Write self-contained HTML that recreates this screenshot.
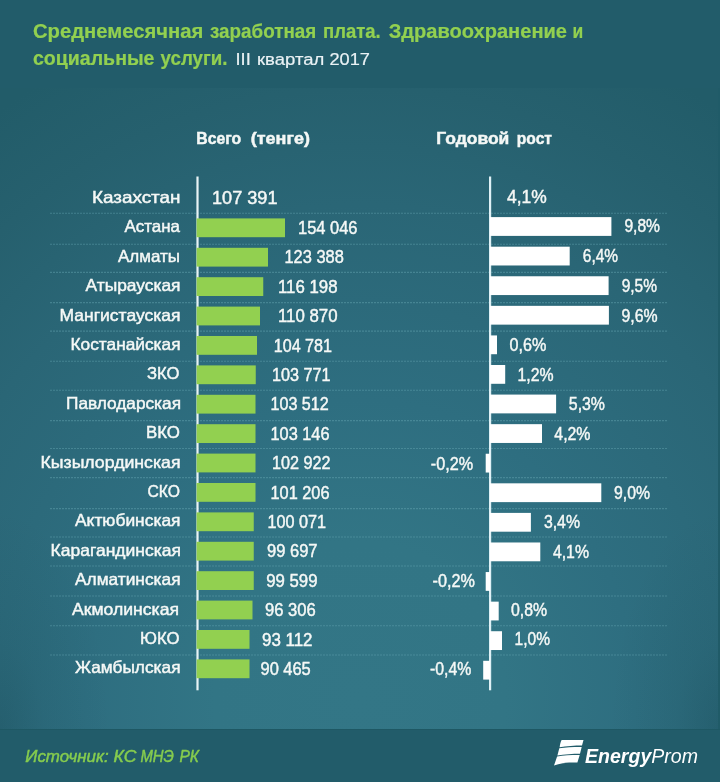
<!DOCTYPE html>
<html lang="ru">
<head>
<meta charset="utf-8">
<title>Среднемесячная заработная плата. Здравоохранение и социальные услуги</title>
<style>
html,body{margin:0;padding:0;background:#225c6a;}
body{width:720px;height:782px;overflow:hidden;position:relative;font-family:"Liberation Sans",sans-serif;}
#plot{position:absolute;left:0;top:88px;width:720px;height:641px;
background:
 radial-gradient(ellipse 110px 220px at 0px 641px, rgba(10,50,60,0.20) 0%, rgba(10,50,60,0.08) 40%, rgba(10,50,60,0) 100%),
 radial-gradient(ellipse 110px 220px at 720px 641px, rgba(10,50,60,0.20) 0%, rgba(10,50,60,0.08) 40%, rgba(10,50,60,0) 100%),
 radial-gradient(ellipse 558px 612px at 360px 612px, #337686 0%, #327585 26%, #2e6e80 49%, #2a6676 81%, #26606e 100%, #225c69 116%);
}
#edge{position:absolute;right:0;top:88px;width:2px;height:641px;background:#205b68;}
#footline{position:absolute;left:0;top:729px;width:720px;height:1px;background:#1e5864;}
svg{position:absolute;left:0;top:0;}
svg text{font-family:"Liberation Sans",sans-serif;}
</style>
</head>
<body>
<div id="plot"></div><div id="edge"></div><div id="footline"></div>
<svg width="720" height="782" viewBox="0 0 720 782">

<g font-weight="bold">
<text x="33.00" y="38.00" font-size="19.4" fill="#92d050" stroke="#92d050" stroke-width="0.2" textLength="170.25" lengthAdjust="spacingAndGlyphs">Среднемесячная</text>
<text x="210.00" y="38.00" font-size="19.4" fill="#92d050" stroke="#92d050" stroke-width="0.2" textLength="106.25" lengthAdjust="spacingAndGlyphs">заработная</text>
<text x="323.00" y="38.00" font-size="19.4" fill="#92d050" stroke="#92d050" stroke-width="0.2" textLength="57.75" lengthAdjust="spacingAndGlyphs">плата.</text>
<text x="388.75" y="38.00" font-size="19.4" fill="#92d050" stroke="#92d050" stroke-width="0.2" textLength="178.25" lengthAdjust="spacingAndGlyphs">Здравоохранение</text>
<text x="572.50" y="38.00" font-size="19.4" fill="#92d050" stroke="#92d050" stroke-width="0.2" textLength="10.75" lengthAdjust="spacingAndGlyphs">и</text>
<text x="33.00" y="64.50" font-size="19.4" fill="#92d050" stroke="#92d050" stroke-width="0.2" textLength="121.50" lengthAdjust="spacingAndGlyphs">социальные</text>
<text x="160.50" y="64.50" font-size="19.4" fill="#92d050" stroke="#92d050" stroke-width="0.2" textLength="67.00" lengthAdjust="spacingAndGlyphs">услуги.</text>
</g>
<text x="235.50" y="65.00" font-size="16.8" fill="#eaf2f5" stroke="#eaf2f5" stroke-width="0.2" textLength="15.30" lengthAdjust="spacingAndGlyphs">III</text>
<text x="257.00" y="65.00" font-size="16.8" fill="#eaf2f5" stroke="#eaf2f5" stroke-width="0.2" textLength="67.25" lengthAdjust="spacingAndGlyphs">квартал</text>
<text x="329.50" y="65.00" font-size="16.8" fill="#eaf2f5" stroke="#eaf2f5" stroke-width="0.2" textLength="40.50" lengthAdjust="spacingAndGlyphs">2017</text>
<g font-weight="bold">
<text x="196.25" y="144.00" font-size="16" fill="#f5f8f6" stroke="#f5f8f6" stroke-width="0.45" textLength="45.00" lengthAdjust="spacingAndGlyphs">Всего</text>
<text x="250.75" y="144.00" font-size="16" fill="#f5f8f6" stroke="#f5f8f6" stroke-width="0.45" textLength="59.25" lengthAdjust="spacingAndGlyphs">(тенге)</text>
<text x="436.25" y="144.00" font-size="16" fill="#f5f8f6" stroke="#f5f8f6" stroke-width="0.45" textLength="73.00" lengthAdjust="spacingAndGlyphs">Годовой</text>
<text x="516.75" y="144.00" font-size="16" fill="#f5f8f6" stroke="#f5f8f6" stroke-width="0.45" textLength="35.25" lengthAdjust="spacingAndGlyphs">рост</text>
</g>
<g stroke="#6aaab6" stroke-width="1.1" stroke-dasharray="2 1" opacity="0.42">
<line x1="50" y1="213.2" x2="668" y2="213.2"/>
<line x1="50" y1="244.3" x2="668" y2="244.3"/>
<line x1="50" y1="272.4" x2="668" y2="272.4"/>
<line x1="50" y1="302.6" x2="668" y2="302.6"/>
<line x1="50" y1="331.1" x2="668" y2="331.1"/>
<line x1="50" y1="361.3" x2="668" y2="361.3"/>
<line x1="50" y1="390.3" x2="668" y2="390.3"/>
<line x1="50" y1="420.6" x2="668" y2="420.6"/>
<line x1="50" y1="448.5" x2="668" y2="448.5"/>
<line x1="50" y1="477.6" x2="668" y2="477.6"/>
<line x1="50" y1="508.6" x2="668" y2="508.6"/>
<line x1="50" y1="537" x2="668" y2="537"/>
<line x1="50" y1="566" x2="668" y2="566"/>
<line x1="50" y1="596" x2="668" y2="596"/>
<line x1="50" y1="625.7" x2="668" y2="625.7"/>
<line x1="50" y1="655" x2="668" y2="655"/>
</g>
<rect x="196.4" y="176.5" width="2.2" height="513.8" fill="#e8f3f5"/>
<rect x="489" y="176.5" width="2.2" height="513.8" fill="#dff1f6"/>
<g fill="#92d050">
<rect x="196.6" y="218.40" width="88.40" height="18.8"/>
<rect x="196.6" y="247.80" width="71.40" height="18.8"/>
<rect x="196.6" y="277.20" width="66.65" height="18.8"/>
<rect x="196.6" y="306.60" width="63.40" height="18.8"/>
<rect x="196.6" y="336.00" width="60.40" height="18.8"/>
<rect x="196.6" y="365.40" width="59.15" height="18.8"/>
<rect x="196.6" y="394.80" width="58.90" height="18.8"/>
<rect x="196.6" y="424.20" width="58.90" height="18.8"/>
<rect x="196.6" y="453.60" width="58.90" height="18.8"/>
<rect x="196.6" y="483.00" width="58.90" height="18.8"/>
<rect x="196.6" y="512.40" width="57.15" height="18.8"/>
<rect x="196.6" y="541.80" width="57.15" height="18.8"/>
<rect x="196.6" y="571.20" width="57.15" height="18.8"/>
<rect x="196.6" y="600.60" width="55.90" height="18.8"/>
<rect x="196.6" y="630.00" width="52.90" height="18.8"/>
<rect x="196.6" y="659.40" width="52.90" height="18.8"/>
</g>
<g fill="#ffffff">
<rect x="490" y="217.10" width="121.40" height="18.8"/>
<rect x="490" y="246.68" width="79.70" height="18.8"/>
<rect x="490" y="276.26" width="118.60" height="18.8"/>
<rect x="490" y="305.84" width="118.90" height="18.8"/>
<rect x="490" y="335.42" width="7.00" height="18.8"/>
<rect x="490" y="365.00" width="15.20" height="18.8"/>
<rect x="490" y="394.58" width="66.10" height="18.8"/>
<rect x="490" y="424.16" width="52.00" height="18.8"/>
<rect x="485.70" y="453.74" width="4.30" height="18.8"/>
<rect x="490" y="483.32" width="111.30" height="18.8"/>
<rect x="490" y="512.90" width="40.90" height="18.8"/>
<rect x="490" y="542.48" width="50.30" height="18.8"/>
<rect x="485.70" y="572.06" width="4.30" height="18.8"/>
<rect x="490" y="601.64" width="8.70" height="18.8"/>
<rect x="490" y="631.22" width="12.00" height="18.8"/>
<rect x="483.20" y="660.80" width="6.80" height="18.8"/>
</g>
<text x="92.00" y="203.00" font-size="16.5" fill="#f5f8f6" stroke="#f5f8f6" stroke-width="0.45" textLength="88.50" lengthAdjust="spacingAndGlyphs">Казахстан</text>
<text x="212.00" y="203.70" font-size="17.8" fill="#f5f8f6" stroke="#f5f8f6" stroke-width="0.45" textLength="65.50" lengthAdjust="spacingAndGlyphs">107 391</text>
<text x="507.00" y="202.80" font-size="17.6" fill="#f5f8f6" stroke="#f5f8f6" stroke-width="0.45" textLength="39.70" lengthAdjust="spacingAndGlyphs">4,1%</text>
<text x="124.50" y="232.40" font-size="16.5" fill="#f5f8f6" stroke="#f5f8f6" stroke-width="0.45" textLength="55.50" lengthAdjust="spacingAndGlyphs">Астана</text>
<text x="298.00" y="234.00" font-size="17.5" fill="#f5f8f6" stroke="#f5f8f6" stroke-width="0.45" textLength="59.50" lengthAdjust="spacingAndGlyphs">154 046</text>
<text x="624.40" y="232.31" font-size="17.6" fill="#f5f8f6" stroke="#f5f8f6" stroke-width="0.45" textLength="35.60" lengthAdjust="spacingAndGlyphs">9,8%</text>
<text x="118.00" y="261.80" font-size="16.5" fill="#f5f8f6" stroke="#f5f8f6" stroke-width="0.45" textLength="62.00" lengthAdjust="spacingAndGlyphs">Алматы</text>
<text x="284.50" y="263.40" font-size="17.5" fill="#f5f8f6" stroke="#f5f8f6" stroke-width="0.45" textLength="59.25" lengthAdjust="spacingAndGlyphs">123 388</text>
<text x="582.80" y="262.12" font-size="17.6" fill="#f5f8f6" stroke="#f5f8f6" stroke-width="0.45" textLength="35.20" lengthAdjust="spacingAndGlyphs">6,4%</text>
<text x="85.50" y="291.20" font-size="16.5" fill="#f5f8f6" stroke="#f5f8f6" stroke-width="0.45" textLength="95.00" lengthAdjust="spacingAndGlyphs">Атырауская</text>
<text x="278.00" y="292.80" font-size="17.5" fill="#f5f8f6" stroke="#f5f8f6" stroke-width="0.45" textLength="59.50" lengthAdjust="spacingAndGlyphs">116 198</text>
<text x="621.70" y="291.83" font-size="17.6" fill="#f5f8f6" stroke="#f5f8f6" stroke-width="0.45" textLength="35.30" lengthAdjust="spacingAndGlyphs">9,5%</text>
<text x="59.50" y="320.60" font-size="16.5" fill="#f5f8f6" stroke="#f5f8f6" stroke-width="0.45" textLength="121.00" lengthAdjust="spacingAndGlyphs">Мангистауская</text>
<text x="278.00" y="322.20" font-size="17.5" fill="#f5f8f6" stroke="#f5f8f6" stroke-width="0.45" textLength="59.50" lengthAdjust="spacingAndGlyphs">110 870</text>
<text x="621.50" y="321.64" font-size="17.6" fill="#f5f8f6" stroke="#f5f8f6" stroke-width="0.45" textLength="36.10" lengthAdjust="spacingAndGlyphs">9,6%</text>
<text x="70.50" y="350.00" font-size="16.5" fill="#f5f8f6" stroke="#f5f8f6" stroke-width="0.45" textLength="110.00" lengthAdjust="spacingAndGlyphs">Костанайская</text>
<text x="273.75" y="351.60" font-size="17.5" fill="#f5f8f6" stroke="#f5f8f6" stroke-width="0.45" textLength="58.25" lengthAdjust="spacingAndGlyphs">104 781</text>
<text x="509.60" y="351.35" font-size="17.6" fill="#f5f8f6" stroke="#f5f8f6" stroke-width="0.45" textLength="36.80" lengthAdjust="spacingAndGlyphs">0,6%</text>
<text x="147.00" y="379.40" font-size="16.5" fill="#f5f8f6" stroke="#f5f8f6" stroke-width="0.45" textLength="32.50" lengthAdjust="spacingAndGlyphs">ЗКО</text>
<text x="272.00" y="381.00" font-size="17.5" fill="#f5f8f6" stroke="#f5f8f6" stroke-width="0.45" textLength="58.50" lengthAdjust="spacingAndGlyphs">103 771</text>
<text x="517.50" y="380.86" font-size="17.6" fill="#f5f8f6" stroke="#f5f8f6" stroke-width="0.45" textLength="36.10" lengthAdjust="spacingAndGlyphs">1,2%</text>
<text x="66.00" y="408.80" font-size="16.5" fill="#f5f8f6" stroke="#f5f8f6" stroke-width="0.45" textLength="115.00" lengthAdjust="spacingAndGlyphs">Павлодарская</text>
<text x="270.50" y="410.40" font-size="17.5" fill="#f5f8f6" stroke="#f5f8f6" stroke-width="0.45" textLength="58.25" lengthAdjust="spacingAndGlyphs">103 512</text>
<text x="568.80" y="410.37" font-size="17.6" fill="#f5f8f6" stroke="#f5f8f6" stroke-width="0.45" textLength="36.20" lengthAdjust="spacingAndGlyphs">5,3%</text>
<text x="146.00" y="438.20" font-size="16.5" fill="#f5f8f6" stroke="#f5f8f6" stroke-width="0.45" textLength="34.00" lengthAdjust="spacingAndGlyphs">ВКО</text>
<text x="270.50" y="439.80" font-size="17.5" fill="#f5f8f6" stroke="#f5f8f6" stroke-width="0.45" textLength="59.00" lengthAdjust="spacingAndGlyphs">103 146</text>
<text x="554.30" y="439.98" font-size="17.6" fill="#f5f8f6" stroke="#f5f8f6" stroke-width="0.45" textLength="36.20" lengthAdjust="spacingAndGlyphs">4,2%</text>
<text x="40.50" y="467.60" font-size="16.5" fill="#f5f8f6" stroke="#f5f8f6" stroke-width="0.45" textLength="140.00" lengthAdjust="spacingAndGlyphs">Кызылординская</text>
<text x="272.00" y="469.20" font-size="17.5" fill="#f5f8f6" stroke="#f5f8f6" stroke-width="0.45" textLength="58.50" lengthAdjust="spacingAndGlyphs">102 922</text>
<text x="430.80" y="469.69" font-size="17.6" fill="#f5f8f6" stroke="#f5f8f6" stroke-width="0.45" textLength="42.30" lengthAdjust="spacingAndGlyphs">-0,2%</text>
<text x="147.50" y="497.00" font-size="16.5" fill="#f5f8f6" stroke="#f5f8f6" stroke-width="0.45" textLength="32.50" lengthAdjust="spacingAndGlyphs">СКО</text>
<text x="270.50" y="498.60" font-size="17.5" fill="#f5f8f6" stroke="#f5f8f6" stroke-width="0.45" textLength="59.00" lengthAdjust="spacingAndGlyphs">101 206</text>
<text x="614.00" y="498.70" font-size="17.6" fill="#f5f8f6" stroke="#f5f8f6" stroke-width="0.45" textLength="36.00" lengthAdjust="spacingAndGlyphs">9,0%</text>
<text x="75.00" y="526.40" font-size="16.5" fill="#f5f8f6" stroke="#f5f8f6" stroke-width="0.45" textLength="105.50" lengthAdjust="spacingAndGlyphs">Актюбинская</text>
<text x="267.50" y="528.00" font-size="17.5" fill="#f5f8f6" stroke="#f5f8f6" stroke-width="0.45" textLength="58.50" lengthAdjust="spacingAndGlyphs">100 071</text>
<text x="543.90" y="528.21" font-size="17.6" fill="#f5f8f6" stroke="#f5f8f6" stroke-width="0.45" textLength="36.10" lengthAdjust="spacingAndGlyphs">3,4%</text>
<text x="50.50" y="555.80" font-size="16.5" fill="#f5f8f6" stroke="#f5f8f6" stroke-width="0.45" textLength="130.50" lengthAdjust="spacingAndGlyphs">Карагандинская</text>
<text x="267.00" y="557.40" font-size="17.5" fill="#f5f8f6" stroke="#f5f8f6" stroke-width="0.45" textLength="50.50" lengthAdjust="spacingAndGlyphs">99 697</text>
<text x="552.90" y="557.52" font-size="17.6" fill="#f5f8f6" stroke="#f5f8f6" stroke-width="0.45" textLength="36.10" lengthAdjust="spacingAndGlyphs">4,1%</text>
<text x="75.00" y="585.20" font-size="16.5" fill="#f5f8f6" stroke="#f5f8f6" stroke-width="0.45" textLength="105.50" lengthAdjust="spacingAndGlyphs">Алматинская</text>
<text x="266.25" y="586.80" font-size="17.5" fill="#f5f8f6" stroke="#f5f8f6" stroke-width="0.45" textLength="51.25" lengthAdjust="spacingAndGlyphs">99 599</text>
<text x="432.60" y="586.83" font-size="17.6" fill="#f5f8f6" stroke="#f5f8f6" stroke-width="0.45" textLength="42.30" lengthAdjust="spacingAndGlyphs">-0,2%</text>
<text x="72.00" y="614.60" font-size="16.5" fill="#f5f8f6" stroke="#f5f8f6" stroke-width="0.45" textLength="107.00" lengthAdjust="spacingAndGlyphs">Акмолинская</text>
<text x="265.00" y="616.20" font-size="17.5" fill="#f5f8f6" stroke="#f5f8f6" stroke-width="0.45" textLength="50.75" lengthAdjust="spacingAndGlyphs">96 306</text>
<text x="511.00" y="615.94" font-size="17.6" fill="#f5f8f6" stroke="#f5f8f6" stroke-width="0.45" textLength="36.10" lengthAdjust="spacingAndGlyphs">0,8%</text>
<text x="140.00" y="644.00" font-size="16.5" fill="#f5f8f6" stroke="#f5f8f6" stroke-width="0.45" textLength="39.50" lengthAdjust="spacingAndGlyphs">ЮКО</text>
<text x="262.00" y="645.60" font-size="17.5" fill="#f5f8f6" stroke="#f5f8f6" stroke-width="0.45" textLength="50.50" lengthAdjust="spacingAndGlyphs">93 112</text>
<text x="514.60" y="645.45" font-size="17.6" fill="#f5f8f6" stroke="#f5f8f6" stroke-width="0.45" textLength="35.40" lengthAdjust="spacingAndGlyphs">1,0%</text>
<text x="75.00" y="673.40" font-size="16.5" fill="#f5f8f6" stroke="#f5f8f6" stroke-width="0.45" textLength="105.50" lengthAdjust="spacingAndGlyphs">Жамбылская</text>
<text x="260.50" y="675.00" font-size="17.5" fill="#f5f8f6" stroke="#f5f8f6" stroke-width="0.45" textLength="50.25" lengthAdjust="spacingAndGlyphs">90 465</text>
<text x="430.00" y="674.96" font-size="17.6" fill="#f5f8f6" stroke="#f5f8f6" stroke-width="0.45" textLength="41.30" lengthAdjust="spacingAndGlyphs">-0,4%</text>
<text x="25.30" y="761.70" font-size="16.5" fill="#86cc4e" stroke="#86cc4e" stroke-width="0.45" textLength="83.30" lengthAdjust="spacingAndGlyphs" font-style="italic">Источник:</text>
<text x="113.60" y="761.70" font-size="16.5" fill="#86cc4e" stroke="#86cc4e" stroke-width="0.45" textLength="22.80" lengthAdjust="spacingAndGlyphs" font-style="italic">КС</text>
<text x="140.50" y="761.70" font-size="16.5" fill="#86cc4e" stroke="#86cc4e" stroke-width="0.45" textLength="33.40" lengthAdjust="spacingAndGlyphs" font-style="italic">МНЭ</text>
<text x="179.40" y="761.70" font-size="16.5" fill="#86cc4e" stroke="#86cc4e" stroke-width="0.45" textLength="19.50" lengthAdjust="spacingAndGlyphs" font-style="italic">РК</text>
<g fill="#ffffff">
<path d="M561.6 740.1 L583.5 740.1 L582 745.6 C575 745.6 566 746.2 559.6 747.3 C560 744.5 560.6 742 561.6 740.1 Z"/>
<path d="M559.3 748.3 C566 747.2 575 746.8 581.7 746.9 L580 753.8 C573 753.8 564 754.4 557.4 755.5 Z"/>
<path d="M557.1 756.5 C564 755.4 573 755 579.7 755.1 L577.4 762.5 C569.5 762.1 560.5 762.6 554 765.6 Z"/>
</g>
<text x="585" y="762.5" font-size="19.8" fill="#ffffff" font-style="italic" textLength="113" lengthAdjust="spacingAndGlyphs"><tspan font-weight="bold">Energy</tspan>Prom</text>
</svg>
</body>
</html>
